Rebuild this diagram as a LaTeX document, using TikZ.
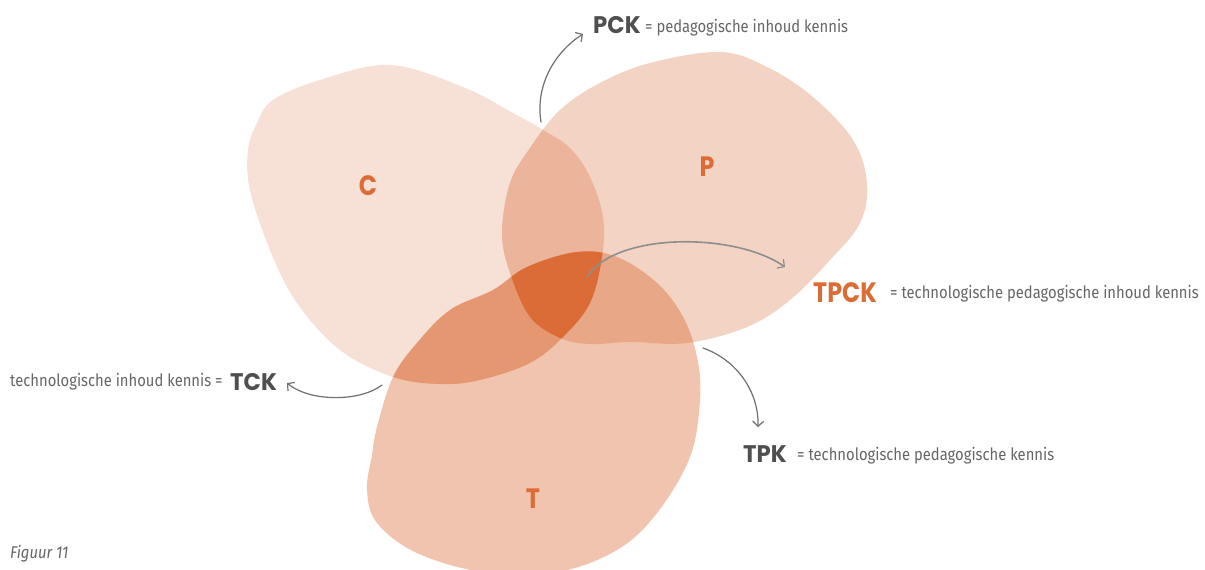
\documentclass[tikz,border=0pt]{standalone}
\usepackage{fontspec}
\setmainfont{Fira Sans}[FakeStretch=0.87]
\newfontfamily\brushfont{Poppins}[FakeStretch=0.85]
\newfontfamily\brushwide{Poppins}[FakeStretch=0.95]
\usetikzlibrary{arrows.meta}
\definecolor{cC}{HTML}{F7E0D6}
\definecolor{cP}{HTML}{F3D3C4}
\definecolor{cT}{HTML}{F0C4AE}
\definecolor{cCP}{HTML}{ECB49B}
\definecolor{cCT}{HTML}{E59772}
\definecolor{cPT}{HTML}{E8A787}
\definecolor{cCPT}{HTML}{DC6C37}
\definecolor{orangeLab}{HTML}{DD6B35}
\definecolor{textgrey}{HTML}{666666}
\definecolor{labelgrey}{HTML}{4F4F4F}
\definecolor{arrowgrey}{HTML}{707070}
\definecolor{arrowlight}{HTML}{8E8E8E}
\def\Cpath{plot[smooth cycle, tension=0.6] coordinates {(273,100) (320,80) (390,65) (463,87) (513,113) (543,130) (570,148) (590,177) (603,217) (602,257) (590,303) (563,337) (530,363) (480,380) (440,384) (393,377) (340,350) (297,303) (270,250) (250,190) (248,150) (257,123)}}
\def\Ppath{plot[smooth cycle, tension=0.6] coordinates {(720,52) (767,67) (813,97) (853,140) (867,183) (860,223) (830,260) (790,300) (747,327) (687,343) (630,342) (590,344) (560,338) (530,317) (510,273) (502,233) (510,183) (530,148) (560,110) (600,83) (650,63)}}
\def\Tpath{plot[smooth cycle, tension=0.6] coordinates {(577,252) (617,257) (657,283) (683,317) (697,357) (700,400) (690,457) (657,513) (617,550) (557,572) (483,572) (417,553) (377,523) (367,490) (372,455) (377,427) (393,377) (417,343) (450,310) (493,290) (527,267)}}
\tikzset{
  body/.style={font=\fontsize{17}{20}\selectfont, text=textgrey, inner sep=0pt},
  brush/.style={font=\brushwide\bfseries\fontsize{24}{26}\selectfont, text=labelgrey, inner sep=0pt},
  setlabel/.style={font=\brushfont\bfseries\fontsize{28}{30}\selectfont, text=orangeLab, inner sep=0pt},
  pencil/.style={draw=arrowgrey, line width=1.2pt, line cap=round,
    -{Straight Barb[length=5pt,width=11pt,line width=1.2pt]}},
  pencillight/.style={pencil, draw=arrowlight, line width=1.6pt},
}
\begin{document}
\begin{tikzpicture}[x=1pt,y=-1pt]
\fill[white] (0,0) rectangle (1205,570);
\useasboundingbox (0,0) rectangle (1205,570);
% blobs
\fill[cC] \Cpath;
\fill[cP] \Ppath;
\fill[cT] \Tpath;
\begin{scope}\clip \Cpath; \fill[cCP] \Ppath; \end{scope}
\begin{scope}\clip \Cpath; \fill[cCT] \Tpath; \end{scope}
\begin{scope}\clip \Ppath; \fill[cPT] \Tpath; \end{scope}
\begin{scope}\clip \Cpath; \clip \Ppath; \fill[cCPT] \Tpath; \end{scope}
% set labels
\node[setlabel] (lc) at (368,186) {C};
\node[setlabel] (lp) at (707,167) {P};
\node[setlabel] (lt) at (533,499) {T};
% PCK
\node[brush, anchor=base west] (pck) at (593,33) {PCK};
\node[body, anchor=base west] (pckdef) at (645,32) {= pedagogische inhoud kennis};
% TPCK
\node[setlabel, anchor=base west] (tpck) at (813,302) {TPCK};
\node[body, anchor=base west] (tpckdef) at (890,298) {= technologische pedagogische inhoud kennis};
% TCK
\node[body, anchor=base west] (tckdef) at (10,386) {technologische inhoud kennis =};
\node[brush, anchor=base west] (tck) at (230,390) {TCK};
% TPK
\node[brush, anchor=base west] (tpk) at (743,462) {TPK};
\node[body, anchor=base west] (tpkdef) at (797,460) {= technologische pedagogische kennis};
% caption
\node[body, anchor=base west] (fig) at (10,558) {\itshape Figuur 11};
% arrows
\coordinate (pckS) at (541,122);
\coordinate (pckE) at (583,34);
\coordinate (tpckS) at (587,277);
\coordinate (tpckE) at (785,267);
\coordinate (tckS) at (382,385);
\coordinate (tckE) at (287,383);
\coordinate (tpkS) at (703,348);
\coordinate (tpkE) at (758,427);
\draw[pencil] (pckS) .. controls (535,85) and (555,52) .. (pckE);
\draw[pencillight] (tpckS) .. controls (615,232) and (735,232) .. (tpckE);
\draw[pencil] (tckS) .. controls (360,402) and (310,402) .. (tckE);
\draw[pencil] (tpkS) .. controls (737,360) and (759,392) .. (tpkE);
\end{tikzpicture}
\end{document}
